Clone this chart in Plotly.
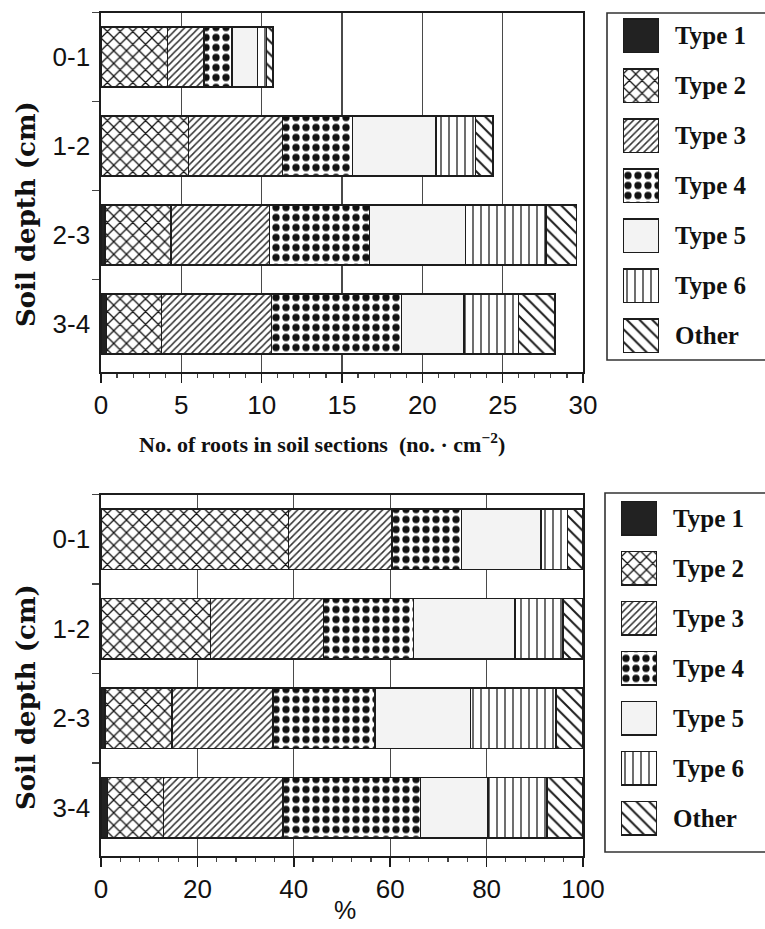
import plotly.graph_objects as go

# ---------------- data ----------------
depths = ["0-1", "1-2", "2-3", "3-4"]
types = ["Type 1", "Type 2", "Type 3", "Type 4", "Type 5", "Type 6", "Other"]

# number of roots in soil sections (no. cm^-2)
counts_type1 = [0.0, 0.0, 0.25, 0.35]
counts_type2 = [4.15, 5.45, 4.1, 3.4]
counts_type3 = [2.25, 5.85, 6.15, 6.85]
counts_type4 = [1.75, 4.35, 6.2, 8.1]
counts_type5 = [1.6, 5.2, 6.0, 3.9]
counts_type6 = [0.55, 2.45, 5.0, 3.4]
counts_other = [0.4, 1.1, 1.9, 2.25]

# share of each type (%)
pct_type1 = [0.0, 0.0, 0.8, 1.3]
pct_type2 = [38.9, 22.7, 13.9, 11.7]
pct_type3 = [21.5, 23.5, 21.0, 24.8]
pct_type4 = [14.4, 18.6, 21.1, 28.5]
pct_type5 = [16.5, 21.1, 19.9, 14.0]
pct_type6 = [5.5, 9.9, 17.7, 12.2]
pct_other = [3.2, 4.2, 5.6, 7.5]

top_ticks = [0, 5, 10, 15, 20, 25, 30]
bottom_ticks = [0, 20, 40, 60, 80, 100]

y_title = "Soil depth (cm)"
x_title_top = "No. of roots in soil sections  (no. · cm<sup>−2</sup>)"
x_title_bottom = "%"

counts = [counts_type1, counts_type2, counts_type3, counts_type4,
          counts_type5, counts_type6, counts_other]
pcts = [pct_type1, pct_type2, pct_type3, pct_type4,
        pct_type5, pct_type6, pct_other]

# ---------------- styles ----------------
INK = "#1c1c1c"
styles = [
    dict(color="#222222"),
    dict(color="white", pattern=dict(shape="x", size=9, solidity=0.26, fgcolor="#111", bgcolor="white", fillmode="replace")),
    dict(color="white", pattern=dict(shape="/", size=5, solidity=0.3, fgcolor="#333", bgcolor="white", fillmode="replace")),
    dict(color="white", pattern=dict(shape=".", size=10, solidity=0.42, fgcolor="#111", bgcolor="white", fillmode="replace")),
    dict(color="#f3f3f3"),
    dict(color="white", pattern=dict(shape="|", size=8, solidity=0.16, fgcolor=INK, bgcolor="white", fillmode="replace")),
    dict(color="white", pattern=dict(shape="\\", size=9, solidity=0.22, fgcolor=INK, bgcolor="white", fillmode="replace")),
]


def marker_for(i):
    m = dict(line=dict(color=INK, width=1.5))
    m.update(styles[i])
    return m


fig = go.Figure()

for i, name in enumerate(types):
    fig.add_trace(go.Bar(x=counts[i], y=depths, orientation="h", name=name,
                         marker=marker_for(i), width=0.674,
                         xaxis="x", yaxis="y", showlegend=False))
    fig.add_trace(go.Bar(x=pcts[i], y=depths, orientation="h", name=name,
                         marker=marker_for(i), width=0.674,
                         xaxis="x2", yaxis="y2", showlegend=False))
    # legend swatches
    fig.add_trace(go.Bar(x=[1], y=[name], orientation="h", name=name,
                         marker=marker_for(i), width=0.67,
                         xaxis="x3", yaxis="y3", showlegend=False))
    fig.add_trace(go.Bar(x=[1], y=[name], orientation="h", name=name,
                         marker=marker_for(i), width=0.67,
                         xaxis="x4", yaxis="y4", showlegend=False))

H = 929.0
W = 765.0

sans = "Liberation Sans, Arial, sans-serif"
serif = "Liberation Serif, Times New Roman, serif"

xdom = [101 / W, 583 / W]


def xaxis_common(rng, ticks, minor_dt, anchor):
    return dict(domain=xdom, range=rng, anchor=anchor, tickvals=ticks,
                automargin=False,
                showgrid=True, gridcolor="#4a4a4a", gridwidth=1.4,
                zeroline=False, showline=True, linecolor=INK, linewidth=1.6,
                mirror=True, ticks="outside", ticklen=9, tickwidth=1.5,
                tickcolor=INK,
                minor=dict(dtick=minor_dt, ticks="outside", ticklen=4,
                           tickwidth=1.2, tickcolor="#444", showgrid=False),
                tickfont=dict(family=sans, size=26, color="#111"))


def yaxis_common(dom, anchor):
    return dict(domain=dom, anchor=anchor, type="category",
                automargin=False,
                categoryorder="array", categoryarray=depths,
                range=[3.54, -0.5], tickson="boundaries", ticks="outside",
                ticklen=7, tickwidth=1.3, tickcolor="#444",
                showgrid=False, zeroline=False, showline=True,
                linecolor=INK, linewidth=1.6, mirror=True,
                ticklabelstandoff=4,
                tickfont=dict(family=sans, size=26, color="#111"))


def legend_axes(xd, yd, anchor_x, anchor_y):
    xa = dict(domain=xd, range=[0, 1], anchor=anchor_y, visible=False,
              automargin=False, fixedrange=True)
    ya = dict(domain=yd, anchor=anchor_x, type="category",
              automargin=False,
              categoryorder="array", categoryarray=types,
              range=[6.5, -0.5], side="right", ticks="", showline=False,
              showgrid=False, zeroline=False, ticklabelstandoff=15,
              tickfont=dict(family=serif, size=25, color="#111",
                            weight="bold"))
    return xa, ya


xa1 = xaxis_common([0, 30], top_ticks, 1, "y")
xa2 = xaxis_common([0, 100], bottom_ticks, 4, "y2")

ya1 = yaxis_common([1 - 372 / H, 1 - 12.5 / H], "x")
ya2 = yaxis_common([1 - 856 / H, 1 - 494.5 / H], "x2")

xa3, ya3 = legend_axes([623 / W, 659 / W], [1 - 360.5 / H, 1 - 10.5 / H], "x3", "y3")
xa4, ya4 = legend_axes([621 / W, 657 / W], [1 - 843.4 / H, 1 - 493.4 / H], "x4", "y4")

title_font = dict(family="DejaVu Serif, Liberation Serif, serif", size=26,
                  color="#111", weight="bold")
annotations = [
    dict(text=y_title, xref="paper", yref="paper", x=26 / W, y=1 - 214 / H,
         textangle=-90, showarrow=False, xanchor="center", yanchor="middle",
         font=title_font),
    dict(text=y_title, xref="paper", yref="paper", x=26 / W, y=1 - 697 / H,
         textangle=-90, showarrow=False, xanchor="center", yanchor="middle",
         font=title_font),
    dict(text=x_title_top, xref="paper", yref="paper", x=322 / W, y=1 - 443 / H,
         showarrow=False, xanchor="center", yanchor="middle",
         font=dict(family=serif, size=22, color="#111", weight="bold")),
    dict(text=x_title_bottom, xref="paper", yref="paper", x=345 / W, y=1 - 910 / H,
         showarrow=False, xanchor="center", yanchor="middle",
         font=dict(family=sans, size=25, color="#111")),
]

fig.update_layout(
    width=765, height=929,
    margin=dict(l=0, r=0, t=0, b=0, autoexpand=False),
    paper_bgcolor="white", plot_bgcolor="white",
    barmode="stack",
    showlegend=False,
    hovermode=False,
    xaxis=xa1, yaxis=ya1,
    xaxis2=xa2, yaxis2=ya2,
    xaxis3=xa3, yaxis3=ya3,
    xaxis4=xa4, yaxis4=ya4,
    annotations=annotations,
    shapes=[
        dict(type="rect", xref="paper", yref="paper",
             x0=607 / W, x1=1.01, y0=1 - 360 / H, y1=1 - 13 / H,
             line=dict(color="#333", width=1.6), fillcolor="rgba(0,0,0,0)",
             layer="below"),
        dict(type="rect", xref="paper", yref="paper",
             x0=605 / W, x1=1.01, y0=1 - 852 / H, y1=1 - 493 / H,
             line=dict(color="#333", width=1.6), fillcolor="rgba(0,0,0,0)",
             layer="below"),
    ],
)

fig.write_html(
    "out.html",
    config=dict(displayModeBar=False, staticPlot=True),
    post_script="document.body.style.margin='0';document.body.style.padding='0';document.body.style.overflow='hidden';",
)
